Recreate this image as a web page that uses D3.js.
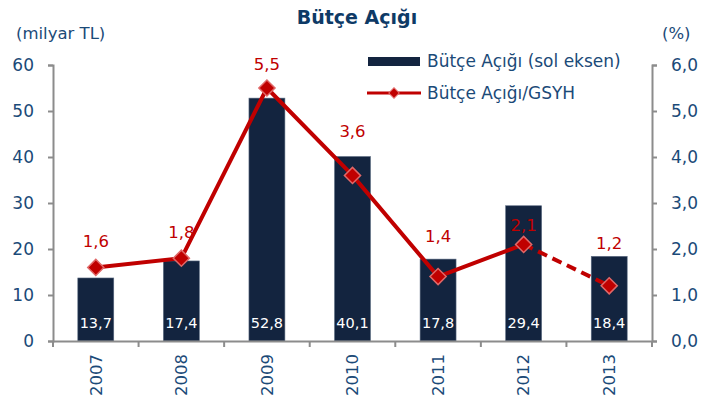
<!DOCTYPE html>
<html>
<head>
<meta charset="utf-8">
<script src="https://cdn.jsdelivr.net/npm/d3@7"></script>
<style>
  body { margin: 0; background: #fff; }
  text { font-family: "DejaVu Sans", sans-serif; }
</style>
</head>
<body>
<svg id="chart" width="712" height="406"></svg>
<script>
const years = ["2007", "2008", "2009", "2010", "2011", "2012", "2013"]
const deficit = [13.7, 17.4, 52.8, 40.1, 17.8, 29.4, 18.4]
const deficitRatio = [1.6, 1.8, 5.5, 3.6, 1.4, 2.1, 1.2]
const leftTicks = [0, 10, 20, 30, 40, 50, 60]
const rightTicks = [0, 1, 2, 3, 4, 5, 6]

// how far above each marker its label sits (label layout, not data)
const labelDy = [20, 20, 18, 38, 35, 13, 37]

const fmt = v => v.toFixed(1).replace(".", ",")
const svg = d3.select("#chart")
const labelColor = "#1b4a78"
const axisColor = "#8c8c8c"
const barColor = "#13243f"
const lineColor = "#c00000"

const margin = { left: 53, right: 60, top: 65, bottom: 65 }
const width = 712 - margin.left - margin.right
const height = 406 - margin.top - margin.bottom

const g = svg.append("g").attr("transform", `translate(${margin.left},${margin.top})`)

const x = d3.scaleBand().domain(years).range([0, width]).paddingInner(0.58).paddingOuter(0.29)
const xCat = d3.scaleBand().domain(years).range([0, width])
const yL = d3.scaleLinear().domain([0, 60]).range([height, 0])
const yR = d3.scaleLinear().domain([0, 6]).range([height, 0])

// title
svg.append("text")
  .attr("x", 357).attr("y", 24)
  .attr("text-anchor", "middle")
  .style("font-size", "19px").style("font-weight", "bold")
  .attr("fill", "#0e3a66")
  .text("Bütçe Açığı")

svg.append("text")
  .attr("x", 16).attr("y", 39)
  .style("font-size", "16.5px").attr("fill", labelColor)
  .text("(milyar TL)")

svg.append("text")
  .attr("x", 662).attr("y", 39)
  .style("font-size", "16.5px").attr("fill", labelColor)
  .text("(%)")

// bars
g.selectAll("rect.bar").data(deficit).enter()
  .append("rect")
  .attr("class", "bar")
  .attr("x", (d, i) => x(years[i]))
  .attr("y", d => yL(d))
  .attr("width", x.bandwidth())
  .attr("height", d => height - yL(d))
  .attr("fill", barColor)
  .attr("stroke", "#5a6a80").attr("stroke-width", 0.6)

g.selectAll("text.barlabel").data(deficit).enter()
  .append("text")
  .attr("class", "barlabel")
  .attr("x", (d, i) => x(years[i]) + x.bandwidth() / 2)
  .attr("y", height - 13)
  .attr("text-anchor", "middle")
  .style("font-size", "14.5px")
  .attr("fill", "#fff")
  .text(d => fmt(d))

// axes
const leftAxis = g.append("g")
  .call(d3.axisLeft(yL).tickValues(leftTicks).tickSize(5).tickPadding(14).tickFormat(d => d))
const rightAxis = g.append("g").attr("transform", `translate(${width},0)`)
  .call(d3.axisRight(yR).tickValues(rightTicks).tickSize(5).tickPadding(14).tickFormat(fmt))
const bottomAxis = g.append("g").attr("transform", `translate(0,${height})`)
  .call(d3.axisBottom(xCat).tickSize(0).tickFormat(d => d))

;[leftAxis, rightAxis, bottomAxis].forEach(a => {
  a.selectAll("path.domain").attr("stroke", axisColor).attr("stroke-width", 2)
  a.selectAll("line").attr("stroke", axisColor).attr("stroke-width", 2)
  a.selectAll("text").attr("fill", labelColor).style("font-size", "17px")
    .style("font-family", "'DejaVu Sans', sans-serif")
})

// category separator ticks
g.selectAll("line.sep").data(d3.range(years.length + 1)).enter()
  .append("line")
  .attr("class", "sep")
  .attr("x1", i => i * xCat.step()).attr("x2", i => i * xCat.step())
  .attr("y1", height).attr("y2", height + 6)
  .attr("stroke", axisColor).attr("stroke-width", 2)

bottomAxis.selectAll(".tick text")
  .style("font-size", "16.5px")
  .attr("transform", "rotate(-90)")
  .attr("text-anchor", "end")
  .attr("x", -13).attr("y", 0).attr("dy", "0.35em")

// line
const pts = deficitRatio.map((v, i) => [xCat(years[i]) + xCat.bandwidth() / 2, yR(v)])
const line = d3.line()
g.append("path")
  .attr("d", line(pts.slice(0, 6)))
  .attr("fill", "none").attr("stroke", lineColor).attr("stroke-width", 4)
g.append("path")
  .attr("d", line(pts.slice(5)))
  .attr("fill", "none").attr("stroke", lineColor).attr("stroke-width", 4)
  .attr("stroke-dasharray", "10,6")

const diamond = d3.symbol().type(d3.symbolSquare).size(130)
g.selectAll("path.marker").data(pts).enter()
  .append("path")
  .attr("class", "marker")
  .attr("transform", d => `translate(${d[0]},${d[1]}) rotate(45)`)
  .attr("d", diamond)
  .attr("fill", lineColor).attr("stroke", "#e06868").attr("stroke-width", 1.5)

g.selectAll("text.linelabel").data(deficitRatio).enter()
  .append("text")
  .attr("class", "linelabel")
  .attr("x", (d, i) => pts[i][0])
  .attr("y", (d, i) => pts[i][1] - labelDy[i])
  .attr("text-anchor", "middle")
  .style("font-size", "16.5px")
  .attr("fill", lineColor)
  .text(d => fmt(d))

// legend
const legend = svg.append("g")
legend.append("rect")
  .attr("x", 368).attr("y", 57).attr("width", 52).attr("height", 9)
  .attr("fill", barColor)
legend.append("text")
  .attr("x", 427).attr("y", 67)
  .style("font-size", "17px").attr("fill", labelColor)
  .text("Bütçe Açığı (sol eksen)")
legend.append("line")
  .attr("x1", 367).attr("x2", 421).attr("y1", 93).attr("y2", 93)
  .attr("stroke", lineColor).attr("stroke-width", 3)
legend.append("path")
  .attr("transform", "translate(394,93) rotate(45)")
  .attr("d", d3.symbol().type(d3.symbolSquare).size(55))
  .attr("fill", lineColor).attr("stroke", "#e06868").attr("stroke-width", 1)
legend.append("text")
  .attr("x", 427).attr("y", 99)
  .style("font-size", "17px").attr("fill", labelColor)
  .text("Bütçe Açığı/GSYH")
</script>
</body>
</html>
